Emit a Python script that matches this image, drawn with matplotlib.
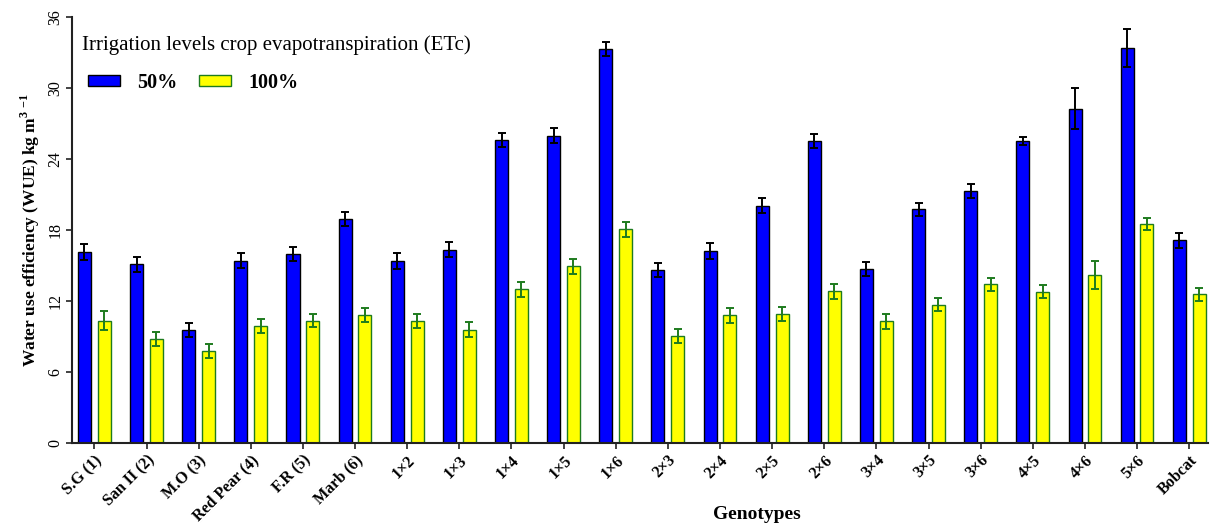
import matplotlib
matplotlib.use("Agg")
import matplotlib.pyplot as plt
import numpy as np
from matplotlib.patches import Patch

plt.rcParams['font.family'] = ['Liberation Serif', 'DejaVu Serif']
plt.rcParams['mathtext.fontset'] = 'custom'
plt.rcParams['mathtext.rm'] = 'Liberation Serif'
plt.rcParams['mathtext.bf'] = 'Liberation Serif:bold'

genotypes = ['S.G (1)', 'San II (2)', 'M.O (3)', 'Red Pear (4)', 'F.R (5)', 'Marb (6)',
             '1×2', '1×3', '1×4', '1×5', '1×6', '2×3', '2×4', '2×5', '2×6',
             '3×4', '3×5', '3×6', '4×5', '4×6', '5×6', 'Bobcat']

wue_50 = [16.13, 15.09, 9.53, 15.40, 15.97, 18.90, 15.37, 16.31, 25.60, 25.97, 33.30,
          14.58, 16.22, 20.03, 25.52, 14.70, 19.72, 21.32, 25.52, 28.25, 33.41, 17.10]
err_50 = [0.68, 0.62, 0.62, 0.65, 0.59, 0.59, 0.65, 0.62, 0.62, 0.62, 0.62,
          0.59, 0.65, 0.62, 0.62, 0.59, 0.56, 0.59, 0.34, 1.75, 1.61, 0.62]

wue_100 = [10.32, 8.79, 7.72, 9.87, 10.32, 10.77, 10.32, 9.56, 12.97, 14.92, 18.03,
           9.05, 10.77, 10.91, 12.80, 10.26, 11.65, 13.40, 12.78, 14.21, 18.48, 12.55]
err_100 = [0.79, 0.59, 0.59, 0.62, 0.56, 0.59, 0.59, 0.65, 0.62, 0.62, 0.62,
           0.59, 0.62, 0.59, 0.62, 0.62, 0.56, 0.54, 0.59, 1.19, 0.48, 0.56]

yticks = [0, 6, 12, 18, 24, 30, 36]

blue = '#0000ff'
yellow = '#ffff00'
green_edge = '#1e7b1e'

W, H = 1211, 529
fig = plt.figure(figsize=(W / 100, H / 100), dpi=100)
ax = fig.add_axes([0.0592, 0.1633, 0.9383, 0.8046])

x = np.arange(len(genotypes))
off = 0.19
w = 0.25

ax.bar(x - off, wue_50, w, color=blue, edgecolor='black', linewidth=1.0,
       yerr=err_50, error_kw=dict(ecolor='black', elinewidth=1.4, capsize=3, capthick=1.4),
       zorder=2)
ax.bar(x + off, wue_100, w, color=yellow, edgecolor=green_edge, linewidth=1.0,
       yerr=err_100, error_kw=dict(ecolor=green_edge, elinewidth=1.4, capsize=3, capthick=1.4),
       zorder=2)

ax.set_xlim(-0.435, 21.36)
ax.set_ylim(0, 36)
ax.set_yticks(yticks)
ax.set_yticklabels([str(t) for t in yticks], rotation=90, va='center', fontsize=11.5)
ax.set_xticks(x)
ax.set_xticklabels(genotypes, rotation=45, ha='right', rotation_mode='anchor',
                   fontsize=11.5, fontweight='bold')

for s in ['top', 'right']:
    ax.spines[s].set_visible(False)
for s in ['left', 'bottom']:
    ax.spines[s].set_linewidth(1.5)
    ax.spines[s].set_color('#222222')
ax.tick_params(axis='both', direction='out', length=4, width=1.2, color='#222222')
ax.tick_params(axis='y', pad=2)
ax.tick_params(axis='x', pad=3)

ax.set_ylabel(r'Water use efficiency (WUE) kg m$^{\mathbf{3\ {-}1}}$',
              fontsize=12.5, fontweight='bold', labelpad=4)
ax.set_xlabel('Genotypes', fontsize=14, fontweight='bold', va='center')
ax.xaxis.set_label_coords(0.603, -0.168)

# legend title and entries
fig.text(82 / W, 1 - 45 / H, 'Irrigation levels crop evapotranspiration (ETc)',
         fontsize=15, ha='left', va='center')
handles = [Patch(facecolor=blue, edgecolor='black', linewidth=1.0),
           Patch(facecolor=yellow, edgecolor=green_edge, linewidth=1.0)]
ax.legend(handles, ['50%', '100%'], ncol=2, loc='upper left',
          bbox_to_anchor=(88 / W, 1 - 73 / H), bbox_transform=fig.transFigure,
          frameon=False, prop={'size': 14.5, 'weight': 'bold'},
          handlelength=1.6, handleheight=0.45, handletextpad=0.85,
          columnspacing=1.05, borderaxespad=0, borderpad=0)

fig.savefig('out.png', dpi=100)
